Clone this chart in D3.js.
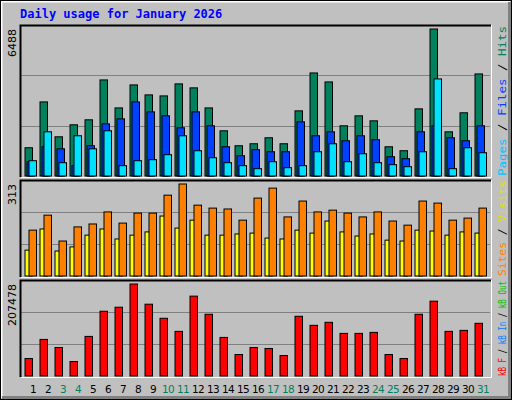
<!DOCTYPE html>
<html><head><meta charset="utf-8">
<script src="https://cdn.jsdelivr.net/npm/d3@7"></script>
<style>body{margin:0;background:#fff}svg{display:block}</style>
</head><body><svg id="svg"></svg>
<script>
// data
const days = d3.range(1, 32);
const weekend = [3, 4, 10, 11, 17, 18, 24, 25, 31];
const hits  = [1247,3270,1730,2260,2480,4240,3005,4020,3580,3535,4065,3890,3005,1995,1335,1423,1687,1423,2875,4548,4152,2215,2655,2435,1290,1115,2963,6488,1950,2790,4504];
const files = [630,1290,1200,455,1335,2300,2523,3270,2830,2655,2128,2830,2215,1290,895,1160,1070,1070,2390,1775,1950,1555,1775,1600,850,762,1950,2215,1687,1555,2215];
const pages = [675,1950,587,1775,1200,1995,455,675,720,940,1775,1115,806,587,455,323,630,367,455,1070,1423,630,982,587,500,410,1070,4285,323,1247,1027];
const visits = [88,160,85,99,139,160,126,139,150,204,163,190,139,139,143,146,129,126,156,146,187,150,136,143,122,119,156,153,139,150,146];
const sites  = [156,207,119,167,177,218,180,214,214,275,313,241,231,228,190,265,299,201,255,218,224,214,201,218,187,173,255,248,190,197,231];
const kbytes = [39350,82480,64320,32540,89290,146040,155120,207478,161930,130150,100640,180090,139230,87020,48430,64320,62050,46160,134690,114260,121070,96100,96100,98370,48430,39350,139230,168740,100640,102910,118800];

const W = 512, H = 400, BW = 7.5;
const svg = d3.select('#svg').attr('width', W).attr('height', H);
const mono = 'DejaVu Sans Mono, monospace';

// background + bevel
svg.append('rect').attr('width', W).attr('height', H).attr('fill', '#c0c0c0');
svg.append('path').attr('d', `M1.5,${H-2} V1.5 H${W-2}`).attr('fill', 'none').attr('stroke', '#fff').attr('stroke-width', 2);
svg.append('path').attr('d', `M2,${H-2.5} H${W-2.5} V2`).attr('fill', 'none').attr('stroke', '#808080').attr('stroke-width', 3);
svg.append('rect').attr('x', .5).attr('y', .5).attr('width', W-1).attr('height', H-1).attr('fill', 'none').attr('stroke', '#000');

svg.append('text').attr('x', 20).attr('y', 18).attr('font-family', mono).attr('font-weight', 'bold')
  .attr('font-size', '12px').attr('fill', '#0000ff').text('Daily usage for January 2026');

const x = d3.scaleLinear().domain([1, 31]).range([25, 475]);

function panel(top, bottom, max, maxLabel, series, legend) {
  const y = d3.scaleLinear().domain([0, max]).range([bottom - 1, top + 4]);
  const g = svg.append('g');
  g.append('rect').attr('x', 20).attr('y', top).attr('width', 471).attr('height', bottom - top).attr('fill', '#c0c0c0');
  const ih = bottom - 1 - top;
  [1, 2].forEach(i => g.append('line').attr('x1', 21).attr('x2', 490)
    .attr('y1', Math.round(bottom - 1 - ih * i / 3) + .5).attr('y2', Math.round(bottom - 1 - ih * i / 3) + .5)
    .attr('stroke', '#808080'));
  g.append('path').attr('d', `M20.5,${bottom} V${top+.5} H491`).attr('fill', 'none').attr('stroke', '#000').attr('stroke-width', 2);
  g.append('path').attr('d', `M21,${bottom+.5} H491.5 V${top}`).attr('fill', 'none').attr('stroke', '#fff');
  series.forEach(s => {
    g.selectAll(null).data(s.values).join('rect')
      .attr('x', (v, i) => x(days[i]) + s.off).attr('width', BW)
      .attr('y', v => y(v)).attr('height', v => bottom - 1 - y(v))
      .attr('fill', s.color).attr('stroke', '#000').attr('stroke-width', 1);
  });
  svg.append('text').attr('transform', `translate(16,${top + 4}) rotate(-90)`).attr('text-anchor', 'end')
    .attr('font-family', 'DejaVu Sans, sans-serif').attr('font-size', '11px').attr('fill', '#000').text(maxLabel);
  // legend reads bottom to top
  const t = svg.append('text').attr('transform', `translate(506,${bottom - 1}) rotate(-90)`)
    .attr('font-family', mono).attr('font-size', '10.5px').attr('textLength', bottom - top - 2)
    .attr('lengthAdjust', 'spacingAndGlyphs');
  legend.forEach((l, i) => {
    if (i) t.append('tspan').attr('fill', '#000').text(' / ');
    t.append('tspan').attr('fill', l[1]).text(l[0]);
  });
}

panel(25, 177, 6488, '6488', [
  { values: hits, color: '#00805c', off: 0 },
  { values: files, color: '#0040ff', off: 2 },
  { values: pages, color: '#00e0ff', off: 4 }
], [['Pages', '#00c0ff'], ['Files', '#0040ff'], ['Hits', '#00805c']]);

panel(180, 277, 313, '313', [
  { values: visits, color: '#ffff00', off: 0 },
  { values: sites, color: '#ff8000', off: 4 }
], [['kB Out', '#00c000'], ['Sites', '#ff8000'], ['Visits', '#e0e000']].slice(1));

panel(280, 377, 207478, '207478', [
  { values: kbytes, color: '#ff0000', off: 0 }
], [['kB F', '#ff0000'], ['kB In', '#0080ff'], ['kB Out', '#00c000']]);

// day labels
svg.selectAll('.day').data(days).join('text')
  .attr('x', d => x(d) + 8).attr('y', 393).attr('text-anchor', 'middle')
  .attr('font-family', 'DejaVu Sans, sans-serif').attr('font-size', '10.5px').attr('letter-spacing', '-0.6px')
  .attr('fill', d => weekend.includes(d) ? '#00805c' : '#000').text(d => d);
</script></body></html>
